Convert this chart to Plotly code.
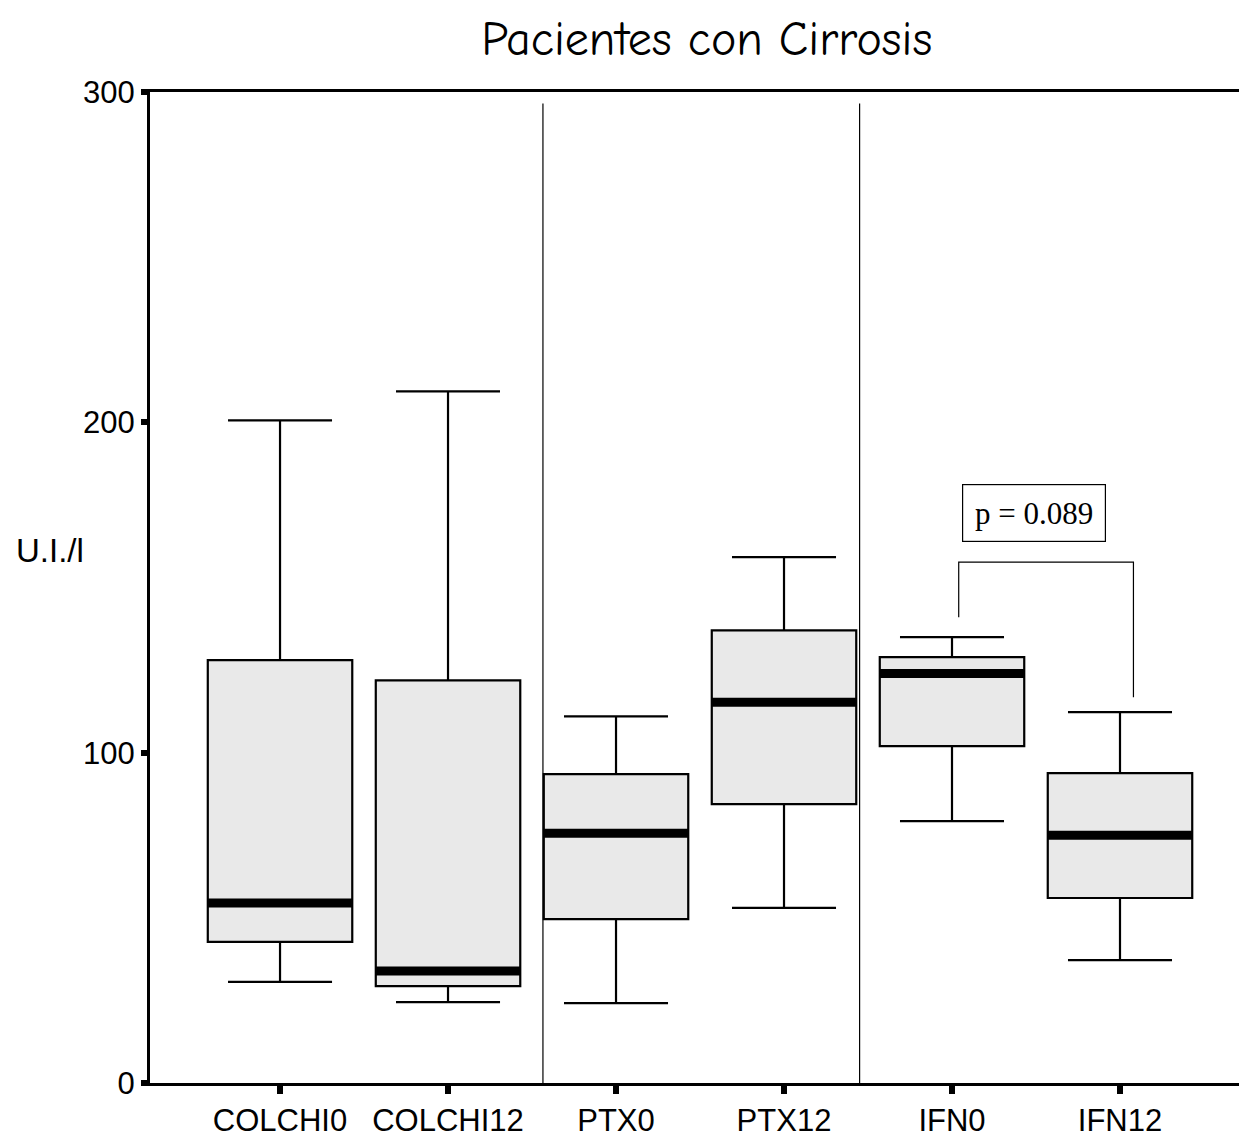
import plotly.graph_objects as go

categories = ["COLCHI0", "COLCHI12", "PTX0", "PTX12", "IFN0", "IFN12"]
lower_whisker = [30.6, 24.5, 24.2, 53.0, 79.3, 37.2]
q1 = [42.7, 29.3, 49.6, 84.4, 102.0, 56.0]
median = [54.5, 33.9, 75.6, 115.3, 124.0, 75.0]
q3 = [128.0, 121.9, 93.5, 137.0, 128.9, 93.8]
upper_whisker = [200.6, 209.4, 111.0, 159.2, 135.0, 112.3]
y_ticks = [0, 100, 200, 300]
p_text = "p = 0.089"

xs = list(range(len(categories)))
box_w = 0.86

fig = go.Figure()
fig.add_trace(go.Box(
    x=xs, q1=q1, median=median, q3=q3,
    lowerfence=lower_whisker, upperfence=upper_whisker,
    width=box_w, whiskerwidth=0.72,
    fillcolor="#e9e9e9", line=dict(color="black", width=2.2),
    boxpoints=False, showlegend=False, hoverinfo="skip",
))

# thick median bars
mx, my = [], []
for i, m in zip(xs, median):
    mx += [i - box_w / 2, i + box_w / 2, None]
    my += [m, m, None]
fig.add_trace(go.Scatter(x=mx, y=my, mode="lines",
                         line=dict(color="black", width=9),
                         showlegend=False, hoverinfo="skip"))

# significance bracket between IFN0 and IFN12
fig.add_trace(go.Scatter(
    x=[4.04, 4.04, 5.08, 5.08], y=[141, 157.7, 157.7, 116.8],
    mode="lines", line=dict(color="black", width=1.2),
    showlegend=False, hoverinfo="skip"))

shapes = []
for sx in [1.565, 3.45]:
    shapes.append(dict(type="line", xref="x", yref="y", x0=sx, x1=sx, y0=0, y1=296.5,
                       line=dict(color="black", width=1.2)))

annotations = [
    dict(text=p_text, x=4.49, y=172.7, xref="x", yref="y", showarrow=False,
         font=dict(family="Liberation Serif, Times New Roman, serif", size=31, color="black"),
         bordercolor="black", borderwidth=1.2, borderpad=7, width=128, height=42,
         align="center"),
    dict(text="U.I./l", xref="paper", yref="y", x=-0.091, y=161.3, showarrow=False,
         xanchor="center", yanchor="middle",
         font=dict(family="Liberation Sans, Arial, sans-serif", size=33, color="black")),
]

fig.update_layout(
    width=1239, height=1131,
    paper_bgcolor="white", plot_bgcolor="white",
    margin=dict(l=142, r=0, t=84, b=56),
    title=dict(text="Pacientes con Cirrosis", x=0.564, xanchor="center", y=0.973, yanchor="middle",
               font=dict(family="Comic Sans MS, Comic Neue, Noto Sans, sans-serif", size=48, color="black")),
    xaxis=dict(range=[-0.774, 5.756], tickvals=xs, ticktext=categories,
               showline=True, linecolor="black", linewidth=3, mirror=True,
               ticks="outside", ticklen=8, tickwidth=6, tickcolor="black",
               showgrid=False, zeroline=False,
               tickfont=dict(family="Liberation Sans, Arial, sans-serif", size=31, color="black")),
    yaxis=dict(range=[0, 300], tickvals=y_ticks,
               showline=True, linecolor="black", linewidth=3,
               ticks="outside", ticklen=6, tickwidth=6, tickcolor="black",
               showgrid=False, zeroline=False,
               tickfont=dict(family="Liberation Sans, Arial, sans-serif", size=31, color="black")),
    shapes=shapes, annotations=annotations,
)

fig.write_html("out.html")
